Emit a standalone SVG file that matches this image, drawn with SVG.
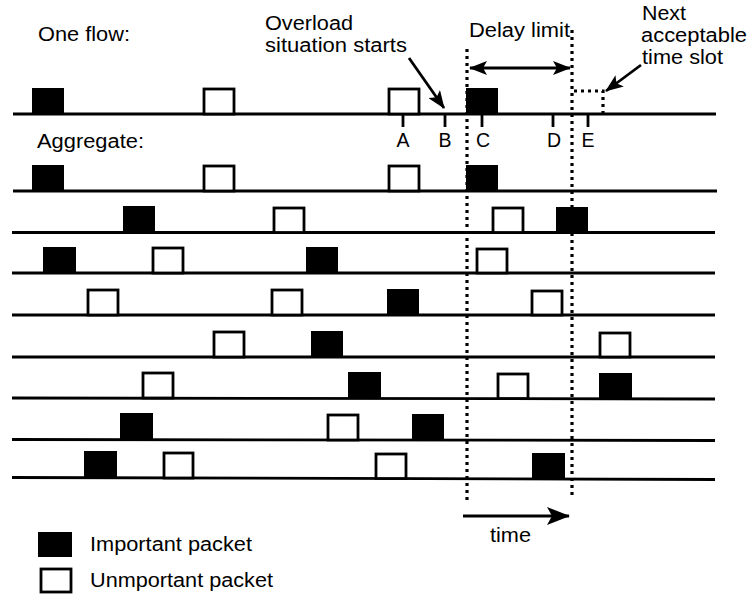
<svg xmlns="http://www.w3.org/2000/svg" width="749" height="596" viewBox="0 0 749 596">
<defs>
<style>
text{font-family:"Liberation Sans",Arial,Helvetica,sans-serif;font-size:19.5px;fill:#000}
.ln{stroke:#000;stroke-width:2.8;fill:none}
.imp{fill:#000}
.unimp{fill:#fff;stroke:#000;stroke-width:2.8}
.dot{stroke:#000;stroke-width:3.2;stroke-dasharray:3 4;fill:none}
.tick{stroke:#000;stroke-width:2.8}
.arr{stroke:#000;stroke-width:2.8;fill:none}
.lbl{text-anchor:middle}
</style>
<marker id="ah" markerUnits="userSpaceOnUse" markerWidth="18" markerHeight="14" refX="17" refY="7" orient="auto-start-reverse">
<path d="M0,0 L18,7 L0,14 L4,7 z" fill="#000"/>
</marker>
<marker id="ahb" markerUnits="userSpaceOnUse" markerWidth="24" markerHeight="18" refX="22" refY="9" orient="auto">
<path d="M0,0 L23,9 L0,18 L5,9 z" fill="#000"/>
</marker>
</defs>
<rect width="749" height="596" fill="#fff"/>

<g id="title-labels">
<text x="38" y="41" textLength="92" lengthAdjust="spacingAndGlyphs">One flow:</text>
<text x="37" y="148" textLength="107" lengthAdjust="spacingAndGlyphs">Aggregate:</text>
</g>

<g id="overload-label">
<text x="265" y="30" textLength="88" lengthAdjust="spacingAndGlyphs">Overload</text>
<text x="265" y="52" textLength="142" lengthAdjust="spacingAndGlyphs">situation starts</text>
</g>

<g id="delay-label">
<text x="469" y="37" textLength="101" lengthAdjust="spacingAndGlyphs">Delay limit</text>
</g>

<g id="next-slot-label">
<text x="642" y="20" textLength="44" lengthAdjust="spacingAndGlyphs">Next</text>
<text x="641" y="42" textLength="106" lengthAdjust="spacingAndGlyphs">acceptable</text>
<text x="642" y="64" textLength="81" lengthAdjust="spacingAndGlyphs">time slot</text>
</g>

<g id="row-flow">
<line class="ln" x1="13" y1="114" x2="716" y2="114"/>
<rect class="imp" x="32" y="88" width="32" height="26"/>
<rect class="unimp" x="204" y="89" width="30" height="25"/>
<rect class="unimp" x="389" y="89" width="30" height="25"/>
<rect class="imp" x="466" y="88" width="32" height="26"/>
<path class="dot" d="M574,91 H603 V114"/>
</g>

<g id="ticks">
<line class="tick" x1="403" y1="114" x2="403" y2="127"/>
<line class="tick" x1="445" y1="114" x2="445" y2="127"/>
<line class="tick" x1="482" y1="114" x2="482" y2="127"/>
<line class="tick" x1="553" y1="114" x2="553" y2="127"/>
<line class="tick" x1="588" y1="114" x2="588" y2="127"/>
<text class="lbl" x="403" y="147">A</text>
<text class="lbl" x="445" y="147">B</text>
<text class="lbl" x="483" y="147">C</text>
<text class="lbl" x="554" y="147">D</text>
<text class="lbl" x="588" y="147">E</text>
</g>

<g id="row-1">
<line class="ln" x1="13" y1="191" x2="717" y2="191"/>
<rect class="imp" x="32" y="165" width="32" height="26"/>
<rect class="unimp" x="204" y="166" width="30" height="25"/>
<rect class="unimp" x="389" y="166" width="30" height="25"/>
<rect class="imp" x="466" y="165" width="32" height="26"/>
</g>

<g id="row-2">
<line class="ln" x1="12" y1="232.5" x2="715" y2="232.5"/>
<rect class="imp" x="123" y="206" width="32" height="26.5"/>
<rect class="unimp" x="274" y="208" width="30" height="24.5"/>
<rect class="unimp" x="493" y="208" width="30" height="24.5"/>
<rect class="imp" x="556" y="207" width="32" height="25.5"/>
</g>

<g id="row-3">
<line class="ln" x1="12" y1="273" x2="715" y2="273"/>
<rect class="imp" x="43" y="247" width="33" height="26"/>
<rect class="unimp" x="153" y="248" width="30" height="25"/>
<rect class="imp" x="306" y="247" width="32" height="26"/>
<rect class="unimp" x="477" y="249" width="30" height="24"/>
</g>

<g id="row-4">
<line class="ln" x1="12" y1="315" x2="715" y2="315"/>
<rect class="unimp" x="88" y="290" width="30" height="25"/>
<rect class="unimp" x="272" y="290" width="30" height="25"/>
<rect class="imp" x="387" y="289" width="32" height="26"/>
<rect class="unimp" x="532" y="291" width="30" height="24"/>
</g>

<g id="row-5">
<line class="ln" x1="12" y1="357" x2="715" y2="357"/>
<rect class="unimp" x="214" y="332" width="30" height="25"/>
<rect class="imp" x="311" y="331" width="32" height="26"/>
<rect class="unimp" x="600" y="333" width="30" height="24"/>
</g>

<g id="row-6">
<line class="ln" x1="12" y1="398" x2="715" y2="399"/>
<rect class="unimp" x="143" y="373" width="30" height="25"/>
<rect class="imp" x="348" y="372" width="33" height="26"/>
<rect class="unimp" x="498" y="374" width="30" height="24.5"/>
<rect class="imp" x="599" y="373" width="33" height="26"/>
</g>

<g id="row-7">
<line class="ln" x1="12" y1="439.5" x2="715" y2="440.5"/>
<rect class="imp" x="120" y="413" width="33" height="26.5"/>
<rect class="unimp" x="328" y="415" width="30" height="25"/>
<rect class="imp" x="412" y="414" width="32" height="26.5"/>
</g>

<g id="row-8">
<line class="ln" x1="12" y1="477.5" x2="715" y2="479.5"/>
<rect class="imp" x="84" y="451" width="33" height="26.5"/>
<rect class="unimp" x="164" y="453" width="29" height="25"/>
<rect class="unimp" x="376" y="454" width="30" height="24.5"/>
<rect class="imp" x="532" y="453" width="33" height="26.5"/>
</g>

<g id="delay-window">
<line class="dot" x1="467" y1="49" x2="467" y2="501"/>
<line class="dot" x1="572" y1="30" x2="572" y2="499"/>
</g>

<g id="legend">
<rect class="imp" x="38" y="532" width="34" height="25"/>
<text x="90" y="551" textLength="162" lengthAdjust="spacingAndGlyphs">Important packet</text>
<rect class="unimp" x="41" y="569" width="30" height="23"/>
<text x="90" y="587" textLength="183" lengthAdjust="spacingAndGlyphs">Unmportant packet</text>
</g>

<g id="time-label">
<text x="490" y="542" textLength="41" lengthAdjust="spacingAndGlyphs">time</text>
</g>

<g id="connectors">
<line class="arr" x1="470" y1="68" x2="570" y2="68" marker-start="url(#ah)" marker-end="url(#ah)"/>
<line class="arr" x1="409" y1="58" x2="444" y2="108" marker-end="url(#ah)"/>
<line class="arr" x1="641" y1="65" x2="606" y2="91" marker-end="url(#ah)"/>
<line class="arr" x1="463" y1="516" x2="569" y2="516" marker-end="url(#ahb)"/>
</g>
</svg>
